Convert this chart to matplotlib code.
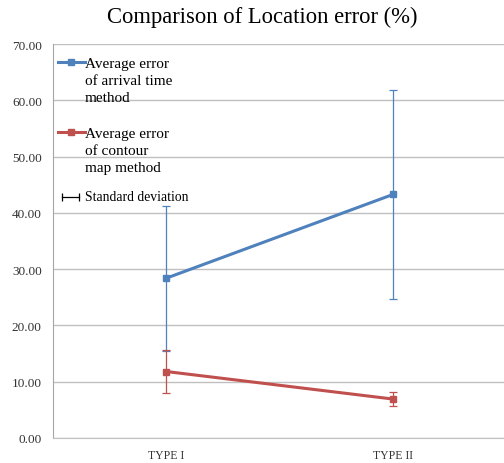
import numpy as np
import matplotlib
matplotlib.use("Agg")
import matplotlib.pyplot as plt

# values
categories = ["TYPE I", "TYPE II"]
arrival_mean = [28.4, 43.3]
arrival_sd = [12.9, 18.6]
contour_mean = [11.8, 6.9]
contour_sd = [3.8, 1.3]
yticks = [0, 10, 20, 30, 40, 50, 60, 70]
legend_labels = ["Average error\nof arrival time\nmethod",
                 "Average error\nof contour\nmap method",
                 "Standard deviation"]

blue = "#4F81BD"
red = "#C0504D"
grid = "#C0C0C0"
plt.rcParams["font.family"] = ["Liberation Serif", "DejaVu Serif"]

fig = plt.figure(figsize=(5.04, 4.64), dpi=100)
ax = fig.add_axes([0.105, 0.054, 0.901, 0.849])
x = np.arange(len(categories))

ax.errorbar(x, arrival_mean, yerr=arrival_sd, color=blue, lw=2.2, marker="s", ms=4.5,
            ecolor=blue, elinewidth=0.9, capsize=3, capthick=0.9, zorder=3)
ax.errorbar(x, contour_mean, yerr=contour_sd, color=red, lw=2.2, marker="s", ms=4.5,
            ecolor=red, elinewidth=0.9, capsize=3, capthick=0.9, zorder=3)

ax.set_xlim(-0.5, 1.5)
ax.set_ylim(0, 70)
ax.set_yticks(yticks)
ax.set_yticklabels(["%.2f" % v for v in yticks], fontsize=9.5, color="#333333")
ax.set_xticks(x)
ax.set_xticklabels(categories, fontsize=8.5, color="#333333")
ax.tick_params(length=0)
ax.tick_params(axis="y", pad=8)
ax.tick_params(axis="x", pad=8)
ax.grid(axis="y", color=grid, lw=1)
ax.set_axisbelow(True)
for s in ["top", "right"]:
    ax.spines[s].set_visible(False)
ax.spines["left"].set_color("#A6A6A6")
ax.spines["bottom"].set_color(grid)

fig.suptitle("Comparison of Location error (%)", fontsize=16.3, x=0.52, y=0.985)

# Excel style legend: handle next to the first text line
tr = ax.transAxes
# axes px: left 53, top 45, width 454, height 394
def ax_xy(px, py):
    return (px - 53) / 454.0, (439 - py) / 394.0

for lab, col, py in zip(legend_labels[:2], [blue, red], [63, 133]):
    x0, y0 = ax_xy(58, py)
    x1, _ = ax_xy(85, py)
    ax.plot([x0, x1], [y0, y0], color=col, lw=2.2, transform=tr, clip_on=False)
    ax.plot([(x0 + x1) / 2], [y0], color=col, marker="s", ms=3.8, transform=tr,
            clip_on=False)
    tx, ty = ax_xy(85, py - 5)
    ax.text(tx, ty, lab, transform=tr, fontsize=11, va="top", ha="left",
            linespacing=1.42)

x0, y0 = ax_xy(62, 198)
x1, _ = ax_xy(79, 198)
ax.plot([x0, x1], [y0, y0], color="black", lw=0.9, transform=tr, clip_on=False)
ax.plot([x0, x1], [y0, y0], color="black", lw=0, marker="|", ms=6, mew=0.9,
        transform=tr, clip_on=False)
tx, ty = ax_xy(85, 198)
ax.text(tx, ty, legend_labels[2], transform=tr, fontsize=9.8, va="center", ha="left")

fig.savefig("out.png", dpi=100)
